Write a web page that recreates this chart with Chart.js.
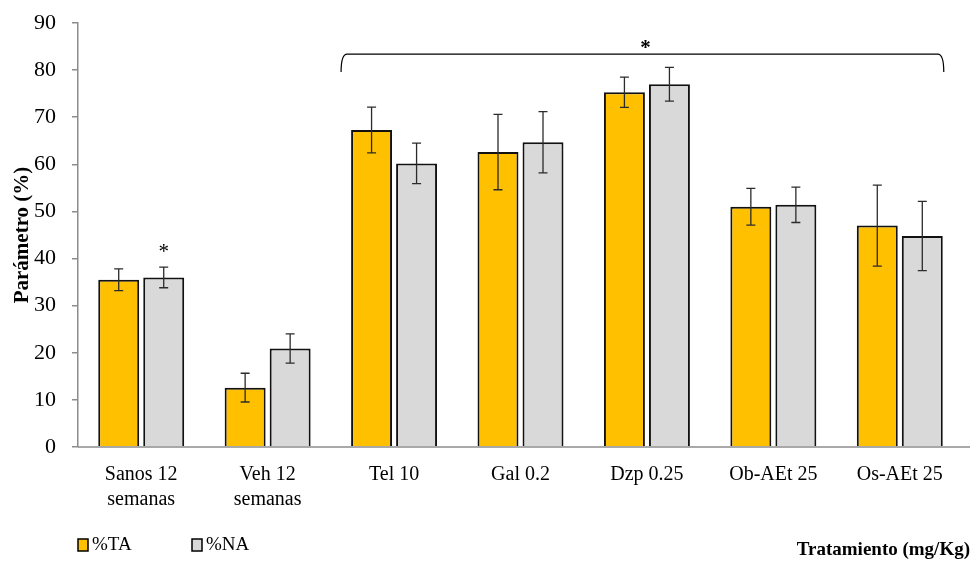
<!DOCTYPE html>
<html>
<head>
<meta charset="utf-8">
<script src="https://cdn.jsdelivr.net/npm/chart.js@4.4.0/dist/chart.umd.min.js"></script>
<style>
  html, body { margin: 0; padding: 0; background: #fff; }
  #wrap { width: 972px; height: 561px; }
</style>
</head>
<body>
<div id="wrap"><canvas id="chart" width="972" height="561"></canvas></div>
<script>
const categorias = [['Sanos 12', 'semanas'], ['Veh 12', 'semanas'], 'Tel 10', 'Gal 0.2', 'Dzp 0.25', 'Ob-AEt 25', 'Os-AEt 25'];
const valoresTA = [35.5, 12.6, 67.3, 62.6, 75.3, 51.0, 47.0];
const errorTA = [2.3, 3.05, 4.85, 8.0, 3.2, 3.9, 8.6];
const valoresNA = [36.0, 20.9, 60.2, 64.7, 77.0, 51.4, 44.8];
const errorNA = [2.2, 3.1, 4.3, 6.5, 3.6, 3.75, 7.35];
const yTicks = [0, 10, 20, 30, 40, 50, 60, 70, 80, 90];

const FONT = "'Liberation Serif', 'Times New Roman', serif";
const errores = [errorTA, errorNA];

const extras = {
  id: 'extras',
  afterDatasetsDraw(chart) {
    const ctx = chart.ctx;
    const y = chart.scales.y;
    const area = chart.chartArea;
    ctx.save();

    // barras de error
    ctx.strokeStyle = '#2b2b2b';
    ctx.lineWidth = 1.3;
    chart.data.datasets.forEach((ds, i) => {
      chart.getDatasetMeta(i).data.forEach((bar, j) => {
        const v = ds.data[j], e = errores[i][j];
        const top = y.getPixelForValue(v + e);
        const bot = y.getPixelForValue(v - e);
        ctx.beginPath();
        ctx.moveTo(bar.x, top); ctx.lineTo(bar.x, bot);
        ctx.moveTo(bar.x - 4.5, top); ctx.lineTo(bar.x + 4.5, top);
        ctx.moveTo(bar.x - 4.5, bot); ctx.lineTo(bar.x + 4.5, bot);
        ctx.stroke();
      });
    });

    // eje x extendido
    ctx.strokeStyle = '#8c8c8c';
    ctx.lineWidth = 1.5;
    ctx.beginPath();
    ctx.moveTo(area.left, area.bottom);
    ctx.lineTo(970, area.bottom);
    ctx.stroke();

    // asterisco sobre Sanos %NA
    const sanosNA = chart.getDatasetMeta(1).data[0];
    ctx.fillStyle = '#000';
    ctx.font = '21px ' + FONT;
    ctx.textAlign = 'center';
    ctx.textBaseline = 'middle';
    ctx.fillText('*', sanosNA.x, y.getPixelForValue(valoresNA[0] + errorNA[0]) - 15);

    // corchete de Tel 10 a Os-AEt 25
    const first = chart.getDatasetMeta(0).data[2];
    const last = chart.getDatasetMeta(1).data[6];
    const x1 = first.x - first.width / 2 - 10;
    const x2 = last.x + last.width / 2 + 1;
    const yb = y.getPixelForValue(83.4);
    const ye = y.getPixelForValue(79.6);
    ctx.strokeStyle = '#000';
    ctx.lineWidth = 1.2;
    ctx.beginPath();
    ctx.moveTo(x1, ye);
    ctx.quadraticCurveTo(x1, yb, x1 + 6, yb);
    ctx.lineTo(x2 - 6, yb);
    ctx.quadraticCurveTo(x2, yb, x2, ye);
    ctx.stroke();
    ctx.font = 'bold 21px ' + FONT;
    ctx.fillText('*', (x1 + x2) / 2 + 3, yb - 6);

    // leyenda
    const items = [{ x: 78, ds: chart.data.datasets[0] }, { x: 192, ds: chart.data.datasets[1] }];
    ctx.font = '19px ' + FONT;
    ctx.textAlign = 'left';
    items.forEach(it => {
      ctx.fillStyle = it.ds.backgroundColor;
      ctx.fillRect(it.x, 539, 10, 12);
      ctx.strokeStyle = '#000';
      ctx.lineWidth = 1.5;
      ctx.strokeRect(it.x, 539, 10, 12);
      ctx.fillStyle = '#000';
      ctx.fillText(it.ds.label, it.x + 14, 545);
    });

    // título eje x
    ctx.font = 'bold 19px ' + FONT;
    ctx.textAlign = 'right';
    ctx.fillText('Tratamiento (mg/Kg)', 970, 550);
    ctx.restore();
  }
};

new Chart(document.getElementById('chart'), {
  type: 'bar',
  data: {
    labels: categorias,
    datasets: [
      { label: '%TA', data: valoresTA, backgroundColor: '#FFC000', borderColor: '#111', borderWidth: 2 },
      { label: '%NA', data: valoresNA, backgroundColor: '#D9D9D9', borderColor: '#111', borderWidth: 2 }
    ]
  },
  options: {
    responsive: false,
    animation: false,
    devicePixelRatio: 1,
    layout: { padding: { top: 23, right: 9, bottom: 40, left: 0 } },
    datasets: { bar: { categoryPercentage: 0.712, barPercentage: 0.91 } },
    plugins: { legend: { display: false }, tooltip: { enabled: false } },
    scales: {
      x: {
        grid: { display: false },
        border: { display: false },
        ticks: { color: '#000', font: { family: FONT, size: 20, lineHeight: 1.25 }, padding: 7, maxRotation: 0 },
        afterFit: s => { s.height = 74; }
      },
      y: {
        min: 0, max: 90,
        afterBuildTicks: s => { s.ticks = yTicks.map(v => ({ value: v })); },
        grid: { drawOnChartArea: false, drawTicks: true, tickLength: 6, color: '#8c8c8c', lineWidth: 1.5 },
        border: { color: '#8c8c8c', width: 1.5 },
        ticks: { color: '#000', font: { family: FONT, size: 22 }, padding: 16 },
        title: { display: true, text: 'Parámetro (%)', color: '#000', font: { family: FONT, size: 21, weight: 'bold' }, padding: { top: 10, bottom: 0 } },
        afterFit: s => { s.width = 78; s.paddingTop = 0; s.paddingBottom = 0; }
      }
    }
  },
  plugins: [extras]
});
</script>
</body>
</html>
